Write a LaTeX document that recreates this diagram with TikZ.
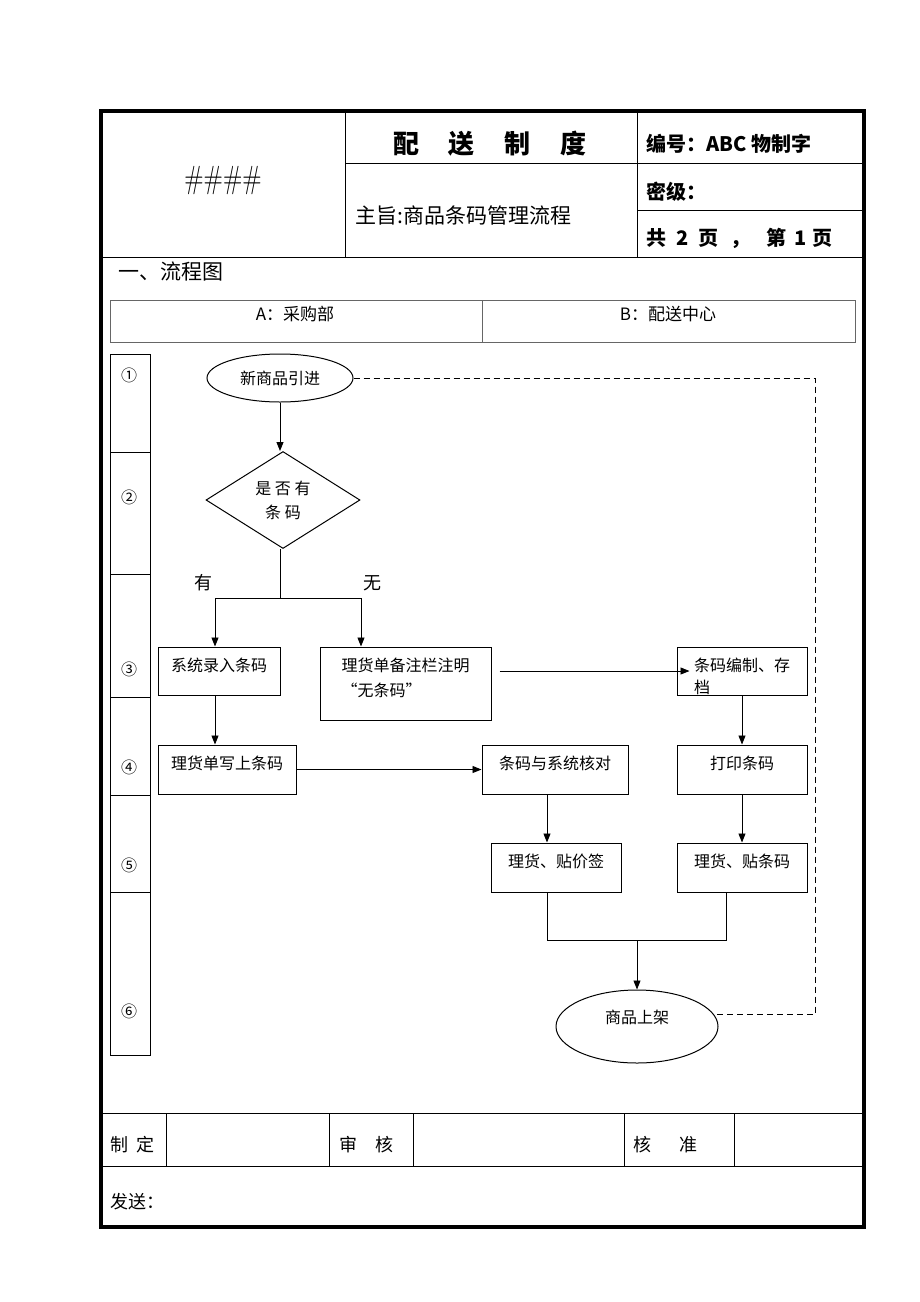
\documentclass[tikz,border=0pt]{standalone}
\usepackage{fontspec}
\setmainfont{Noto Sans CJK SC}
\newfontfamily\lmfont{Latin Modern Roman}
\usetikzlibrary{arrows.meta,shapes.geometric,positioning}

\begin{document}
\begin{tikzpicture}[x=1pt,y=-1pt,
                box/.style={draw,rectangle,line width=1pt,inner sep=2pt,text height=8pt,text depth=8pt,font=\fontsize{16}{22}\selectfont},
                term/.style={draw,ellipse,line width=1pt,inner sep=0pt,font=\fontsize{16}{20}\selectfont},
                decide/.style={draw,diamond,line width=1pt,inner sep=0pt,align=center,font=\fontsize{16}{24}\selectfont},
                arr/.style={-{Triangle[length=9pt,width=7pt]},line width=0.9pt},
                link/.style={line width=0.9pt},
                form/.style={line width=1pt},
                lane/.style={draw=black!60,line width=0.8pt},
                head/.style={inner sep=0pt,anchor=west,font=\fontsize{20}{24}\selectfont\bfseries},
                plain/.style={inner sep=0pt,font=\fontsize{18}{22}\selectfont}]
                \useasboundingbox (0,0) rectangle (920,1302);
                \draw[line width=4pt] (101,111) rectangle (864,1227);
                \draw[form] (345,111) -- (345,257);
                \draw[form] (637,111) -- (637,257);
                \draw[form] (345,163) -- (864,163);
                \draw[form] (637,210) -- (864,210);
                \draw[form] (101,257) -- (864,257);
                \draw[form] (101,1113) -- (864,1113);
                \draw[form] (101,1166) -- (864,1166);
                \foreach \x in {166,329,413,624,734}
                \draw[form] (\x,1113) -- (\x,1166);
                \node[inner sep=0pt,font=\fontsize{32}{36}\selectfont\lmfont] (logo) at (223,181) {\scalebox{0.78}[1]{\#\#\#\#}};
                \node[inner sep=0pt,font=\fontsize{26}{30}\selectfont\bfseries] (title) at (490,144) {配\hskip30pt 送\hskip30pt 制\hskip30pt 度};
                \node[head] (code) at (646,144) {编号：ABC 物制字};
                \node[head] (secret) at (646,192) {密级：};
                \node[head] (pages) at (646,238) {共\hskip10pt 2\hskip10pt 页\hskip12pt ，\hskip16pt 第\hskip8pt 1\hskip6pt 页};
                \node[inner sep=0pt,anchor=west,font=\fontsize{21}{24}\selectfont] (topic) at (355,215) {主旨:商品条码管理流程};
                \node[inner sep=0pt,anchor=west,font=\fontsize{21}{24}\selectfont] (chart) at (118,272) {一、流程图};
                \draw[lane] (110,300) rectangle (855,342);
                \draw[lane] (482,300) -- (482,342);
                \node[plain,font=\fontsize{17}{20}\selectfont] (laneA) at (295,314) {A：采购部};
                \node[plain,font=\fontsize{17}{20}\selectfont] (laneB) at (668,314) {B：配送中心};
                \draw[line width=1pt] (110,354) rectangle (150,1055);
                \foreach \y in {452,574,697,795,892}
                \draw[line width=1pt] (110,\y) -- (150,\y);
                \foreach \n/\y in {①/375,②/497,③/669,④/767,⑤/865,⑥/1011}
                \node[inner sep=0pt,font=\fontsize{16}{20}\selectfont] at (129,\y) {\n};
                \node[term,minimum width=146pt,minimum height=48pt] (start) at (280,378) {新商品引进};
                \node[decide,minimum width=154pt,minimum height=97pt,aspect=1.6] (dec) at (283,500) {是 否 有\\条 码};
                \node[box,minimum width=122pt,minimum height=48pt] (sys) at (219,671) {系统录入条码};
                \node[box,minimum width=171pt,minimum height=73pt,align=left,text height=25pt,text depth=0pt,font=\fontsize{16}{25}\selectfont] (note) at (405.5,683.5) {理货单备注栏注明\\“无条码”};
                \node[box,minimum width=130pt,minimum height=48pt,align=left,text height=44pt,text depth=0pt] (enc) at (742,671) {条码编制、存\\档};
                \node[box,minimum width=138pt,minimum height=49pt] (write) at (227,769.5) {理货单写上条码};
                \node[box,minimum width=146pt,minimum height=49pt] (check) at (555,769.5) {条码与系统核对};
                \node[box,minimum width=130pt,minimum height=49pt] (print) at (742,769.5) {打印条码};
                \node[box,minimum width=130pt,minimum height=49pt] (tag) at (556,867.5) {理货、贴价签};
                \node[box,minimum width=130pt,minimum height=49pt] (lab) at (742,867.5) {理货、贴条码};
                \node[term,minimum width=162pt,minimum height=73pt,text height=4pt,text depth=11pt] (shelf) at (637,1026.5) {商品上架};
                \node[plain] (yes) at (203,583) {有};
                \node[plain] (no) at (372,583) {无};
                \coordinate (fork) at (280,598);
                \coordinate (join) at (637,940);
                \coordinate (dashc) at (815,378);
                \draw[arr] (start) -- (start |- dec.north);
                \draw[link] (fork |- dec.south) -- (fork);
                \draw[arr] (fork) -| ([xshift=-4pt]sys.north);
                \draw[arr] (fork) -| ([xshift=-44.5pt]note.north);
                \draw[arr] ([xshift=8pt]note.east |- enc) -- ([xshift=13pt]enc.west);
                \draw[arr] ([xshift=-4pt]sys.south) -- ([xshift=-4pt]sys.south |- write.north);
                \draw[arr] (write) -- (check);
                \draw[arr] (enc) -- (print);
                \draw[arr] ([xshift=-8pt]check.south) -- ([xshift=-8pt]check.south |- tag.north);
                \draw[arr] (print) -- (lab);
                \draw[link] ([xshift=-9pt]tag.south) |- (join) -| ([xshift=-16pt]lab.south);
                \draw[arr] (join) -- (shelf);
                \draw[link,dash pattern=on 6pt off 4pt] (start) -- (dashc) |- (shelf.9);
                \node[plain,anchor=west] (made) at (110,1145) {制\hskip8pt 定};
                \node[plain,anchor=west] (audit) at (339,1145) {审\hskip18pt 核};
                \node[plain,anchor=west] (approve) at (633,1145) {核\hskip28pt 准};
                \node[plain,anchor=west] (send) at (110,1202) {发送：};
            \end{tikzpicture}
\end{document}
